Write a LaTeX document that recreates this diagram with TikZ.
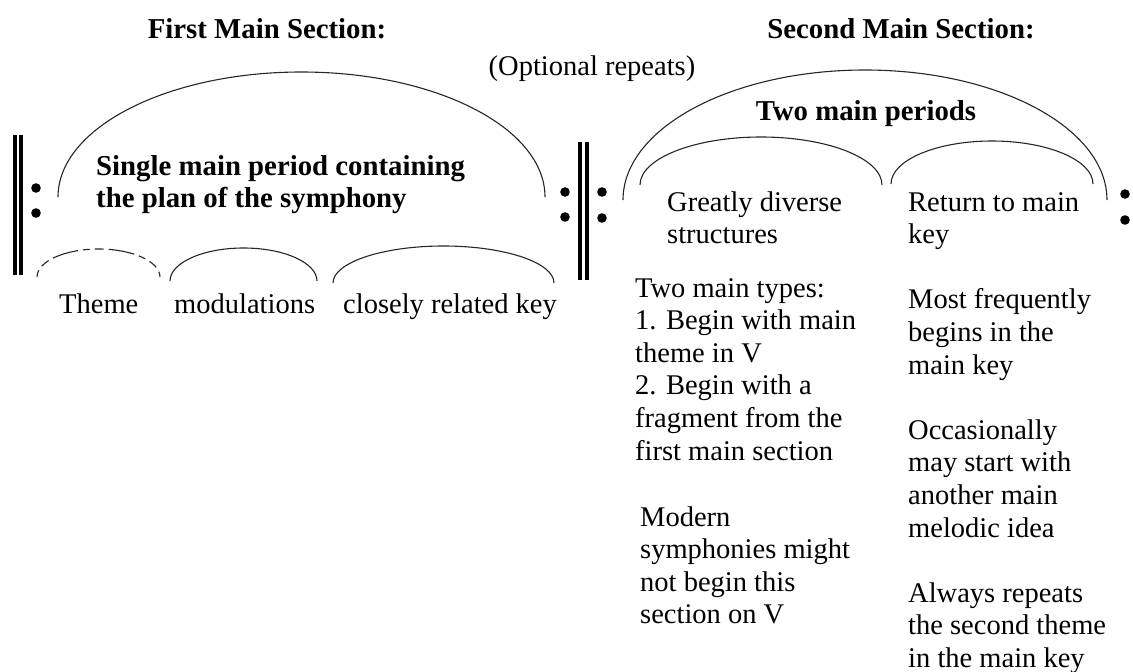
\documentclass[tikz,border=0pt]{standalone}
\usepackage{fontspec}
\setmainfont{Liberation Serif}
\begin{document}
\begin{tikzpicture}[x=1pt,y=1pt,
  txt/.style={inner sep=0pt, anchor=base west, align=left,
              font=\fontsize{28.5}{32.6}\selectfont},
  boldtxt/.style={txt, font=\fontsize{28.8}{32.6}\selectfont\bfseries},
  head/.style={inner sep=0pt, anchor=base,
               font=\fontsize{28.8}{32.6}\selectfont\bfseries},
  curve/.style={line width=1.1pt, draw=black!85},
  dashcurve/.style={curve, dash pattern=on 7pt off 5pt on 9pt off 5pt on 26pt off 5pt},
  bar/.style={fill=black},
  dot/.style={fill=black}]
\useasboundingbox (0,0) rectangle (1133,-672);

% ---- headings ----
\node[head] (first) at (267,-38) {First Main Section:};
\node[head] (second) at (901,-38) {Second Main Section:};
\node[txt, anchor=base] (opt) at (592,-75) {(Optional repeats)};

% ---- opening repeat sign ----
\fill[bar] (13,-135) rectangle (17,-275);
\fill[bar] (19,-135) rectangle (23,-275);
\fill[dot] (36,-188) circle (4.8);
\fill[dot] (36,-213) circle (4.8);

% ---- middle repeat sign ----
\fill[dot] (565,-192) circle (4.8);
\fill[dot] (565,-217) circle (4.8);
\fill[bar] (578,-142) rectangle (582,-280);
\fill[bar] (585,-142) rectangle (589,-280);
\fill[dot] (602,-192) circle (4.8);
\fill[dot] (602,-218) circle (4.8);

% ---- closing repeat dots ----
\fill[dot] (1125,-194) circle (4.8);
\fill[dot] (1125,-220) circle (4.8);

% ---- first main section ----
\draw[curve] (58,-197) arc[start angle=180, end angle=0, x radius=243.5, y radius=125];
% multi-line nodes sit on the baseline of their last line
\node[boldtxt] (single) at (96,-207.6) {Single main period containing\\the plan of the symphony};

\draw[dashcurve] (37,-277) arc[start angle=180, end angle=0, x radius=61.5, y radius=28];
\draw[curve] (170,-281) arc[start angle=180, end angle=0, x radius=73.5, y radius=33];
\draw[curve] (333,-283) arc[start angle=180, end angle=0, x radius=110.5, y radius=37];

\node[txt] (theme) at (59,-313) {Theme};
\node[txt] (modul) at (174,-313) {modulations};
\node[txt] (close) at (343,-313) {closely related key};

% ---- second main section ----
\draw[curve] (623,-200) arc[start angle=180, end angle=0, x radius=242, y radius=130];
\node[head] (twoper) at (866,-120) {Two main periods};

\draw[curve] (640,-185) arc[start angle=180, end angle=0, x radius=121, y radius=48];
\draw[curve] (891,-184) arc[start angle=180, end angle=0, x radius=101, y radius=43];

\node[txt] (diverse) at (667,-243.6) {Greatly diverse\\structures};
\node[txt] (types) at (635,-460) {Two main types:\\1. Begin with main\\theme in V\\2. Begin with a\\fragment from the\\first main section};
\node[txt] (modern) at (640,-623.8) {Modern\\symphonies might\\not begin this\\section on V};

\node[txt] (return) at (908,-667.4) {Return to main\\key\\[32.6pt]Most frequently\\begins in the\\main key\\[32.6pt]Occasionally\\may start with\\another main\\melodic idea\\[32.6pt]Always repeats\\the second theme\\in the main key};
\end{tikzpicture}
\end{document}
